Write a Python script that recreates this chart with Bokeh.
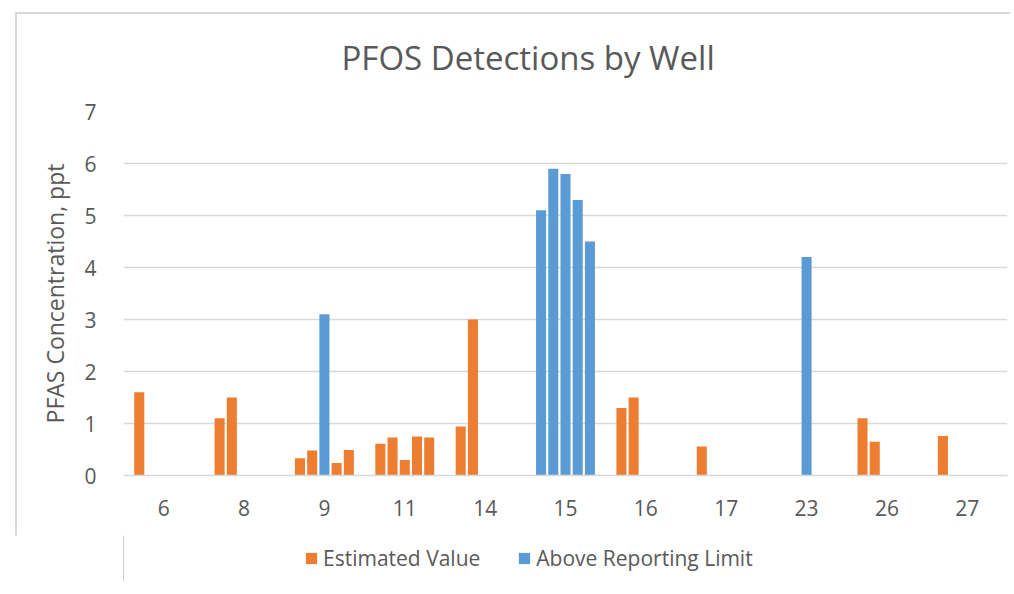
from bokeh.plotting import figure
from bokeh.layouts import column
from bokeh.models import Range1d, FixedTicker, ColumnDataSource, Legend, LegendItem
from bokeh.embed import file_html
from bokeh.resources import INLINE

# ---- data ----
wells = ["6", "8", "9", "11", "14", "15", "16", "17", "23", "26", "27"]
sample_1 = [1.6, 1.1, 0.33, 0.61, 0.94, 5.1, 1.3, 0.56, None, 1.1, 0.76]
sample_2 = [None, 1.5, 0.48, 0.73, 3.0, 5.9, 1.5, None, None, 0.65, None]
sample_3 = [None, None, 3.1, 0.30, None, 5.8, None, None, 4.2, None, None]
sample_4 = [None, None, 0.24, 0.75, None, 5.3, None, None, None, None, None]
sample_5 = [None, None, 0.49, 0.73, None, 4.5, None, None, None, None, None]
# "E" = Estimated Value, "A" = Above Reporting Limit
flag_1 = ["E", "E", "E", "E", "E", "A", "E", "E", "", "E", "E"]
flag_2 = ["", "E", "E", "E", "E", "A", "E", "", "", "E", ""]
flag_3 = ["", "", "A", "E", "", "A", "", "", "A", "", ""]
flag_4 = ["", "", "E", "E", "", "A", "", "", "", "", ""]
flag_5 = ["", "", "E", "E", "", "A", "", "", "", "", ""]
y_ticks = [0, 1, 2, 3, 4, 5, 6, 7]
legend_labels = ["Estimated Value", "Above Reporting Limit"]

series = [sample_1, sample_2, sample_3, sample_4, sample_5]
flags = [flag_1, flag_2, flag_3, flag_4, flag_5]

ORANGE = "#ED7D31"
BLUE = "#5B9BD5"
TEXT = "#595959"
GRID = "#D9D9D9"
FONT = "Open Sans"

slot = 0.152
est = dict(x=[], top=[])
abv = dict(x=[], top=[])
for i, (vals, fl) in enumerate(zip(series, flags)):
    for j, v in enumerate(vals):
        if v is None:
            continue
        d = abv if fl[j] == "A" else est
        d["x"].append(j + (i - 2) * slot)
        d["top"].append(v)

p = figure(width=1010, height=535, x_range=Range1d(-0.5, len(wells) - 0.5),
           y_range=Range1d(0, 7), output_backend="svg", toolbar_location=None,
           min_border_left=123, min_border_right=3, min_border_top=111,
           min_border_bottom=60, title="PFOS Detections by Well")
p.outline_line_color = None
p.background_fill_color = "white"
p.border_fill_alpha = 0

p.title.text_font = FONT
p.title.text_font_size = "33px"
p.title.text_font_style = "normal"
p.title.text_color = TEXT
p.title.align = "left"
p.title.offset = 218
p.title.standoff = 63

p.vbar(x="x", top="top", width=0.125, bottom=0, source=ColumnDataSource(est),
       fill_color=ORANGE, line_color=None)
p.vbar(x="x", top="top", width=0.125, bottom=0, source=ColumnDataSource(abv),
       fill_color=BLUE, line_color=None)

p.xaxis.ticker = FixedTicker(ticks=list(range(len(wells))))
p.xaxis.major_label_overrides = {i: w for i, w in enumerate(wells)}
p.xaxis.major_label_text_font = FONT
p.xaxis.major_label_text_font_size = "21px"
p.xaxis.major_label_text_color = TEXT
p.xaxis.major_label_standoff = 18
p.xaxis.axis_line_color = GRID
p.xaxis.axis_line_width = 1.5
p.xaxis.major_tick_line_color = None
p.xaxis.minor_tick_line_color = None

p.yaxis.ticker = FixedTicker(ticks=y_ticks)
p.yaxis.major_label_text_font = FONT
p.yaxis.major_label_text_font_size = "21px"
p.yaxis.major_label_text_color = TEXT
p.yaxis.major_label_standoff = 21
p.yaxis.axis_line_color = None
p.yaxis.major_tick_line_color = None
p.yaxis.minor_tick_line_color = None
p.yaxis.axis_label = "PFAS Concentration, ppt"
p.yaxis.axis_label_text_font = FONT
p.yaxis.axis_label_text_font_size = "23px"
p.yaxis.axis_label_text_font_style = "normal"
p.yaxis.axis_label_text_color = TEXT
p.yaxis.axis_label_standoff = 10

p.xgrid.grid_line_color = None
p.ygrid.grid_line_color = GRID
p.ygrid.grid_line_width = 1.5

# legend strip below the chart (no axes, no grid lines)
lg = figure(width=1010, height=46, x_range=Range1d(0, 1), y_range=Range1d(0, 1),
            output_backend="svg", toolbar_location=None,
            x_axis_location=None, y_axis_location=None,
            min_border_left=123, min_border_right=3, min_border_top=0, min_border_bottom=0)
lg.xgrid.grid_line_color = None
lg.ygrid.grid_line_color = None
lg.grid.visible = False
lg.outline_line_color = None
lg.background_fill_color = "white"
lg.border_fill_color = "white"
offscreen = dict(x=[-5], top=[1])
le = lg.vbar(x="x", top="top", width=0.1, source=ColumnDataSource(offscreen),
             fill_color=ORANGE, line_color=None)
la = lg.vbar(x="x", top="top", width=0.1, source=ColumnDataSource(offscreen),
             fill_color=BLUE, line_color=None)
legend = Legend(items=[LegendItem(label=legend_labels[0], renderers=[le]),
                       LegendItem(label=legend_labels[1], renderers=[la])],
                orientation="horizontal", location=(181, 9),
                label_text_font=FONT, label_text_font_size="21px",
                label_text_color=TEXT, glyph_width=14, glyph_height=14,
                label_standoff=5, spacing=37, padding=2, margin=0,
                border_line_color=None, background_fill_alpha=0)
lg.add_layout(legend, "center")

layout = column(p, lg, spacing=0, styles={
    "background-color": "white",
    "background-image": "linear-gradient(#D9D9D9, #D9D9D9), linear-gradient(#D9D9D9, #D9D9D9)",
    "background-size": "100% 2px, 2px 100%",
    "background-position": "16px 12px, 15px 12px",
    "background-repeat": "no-repeat",
})
open("out.html", "w").write(file_html(layout, INLINE))
